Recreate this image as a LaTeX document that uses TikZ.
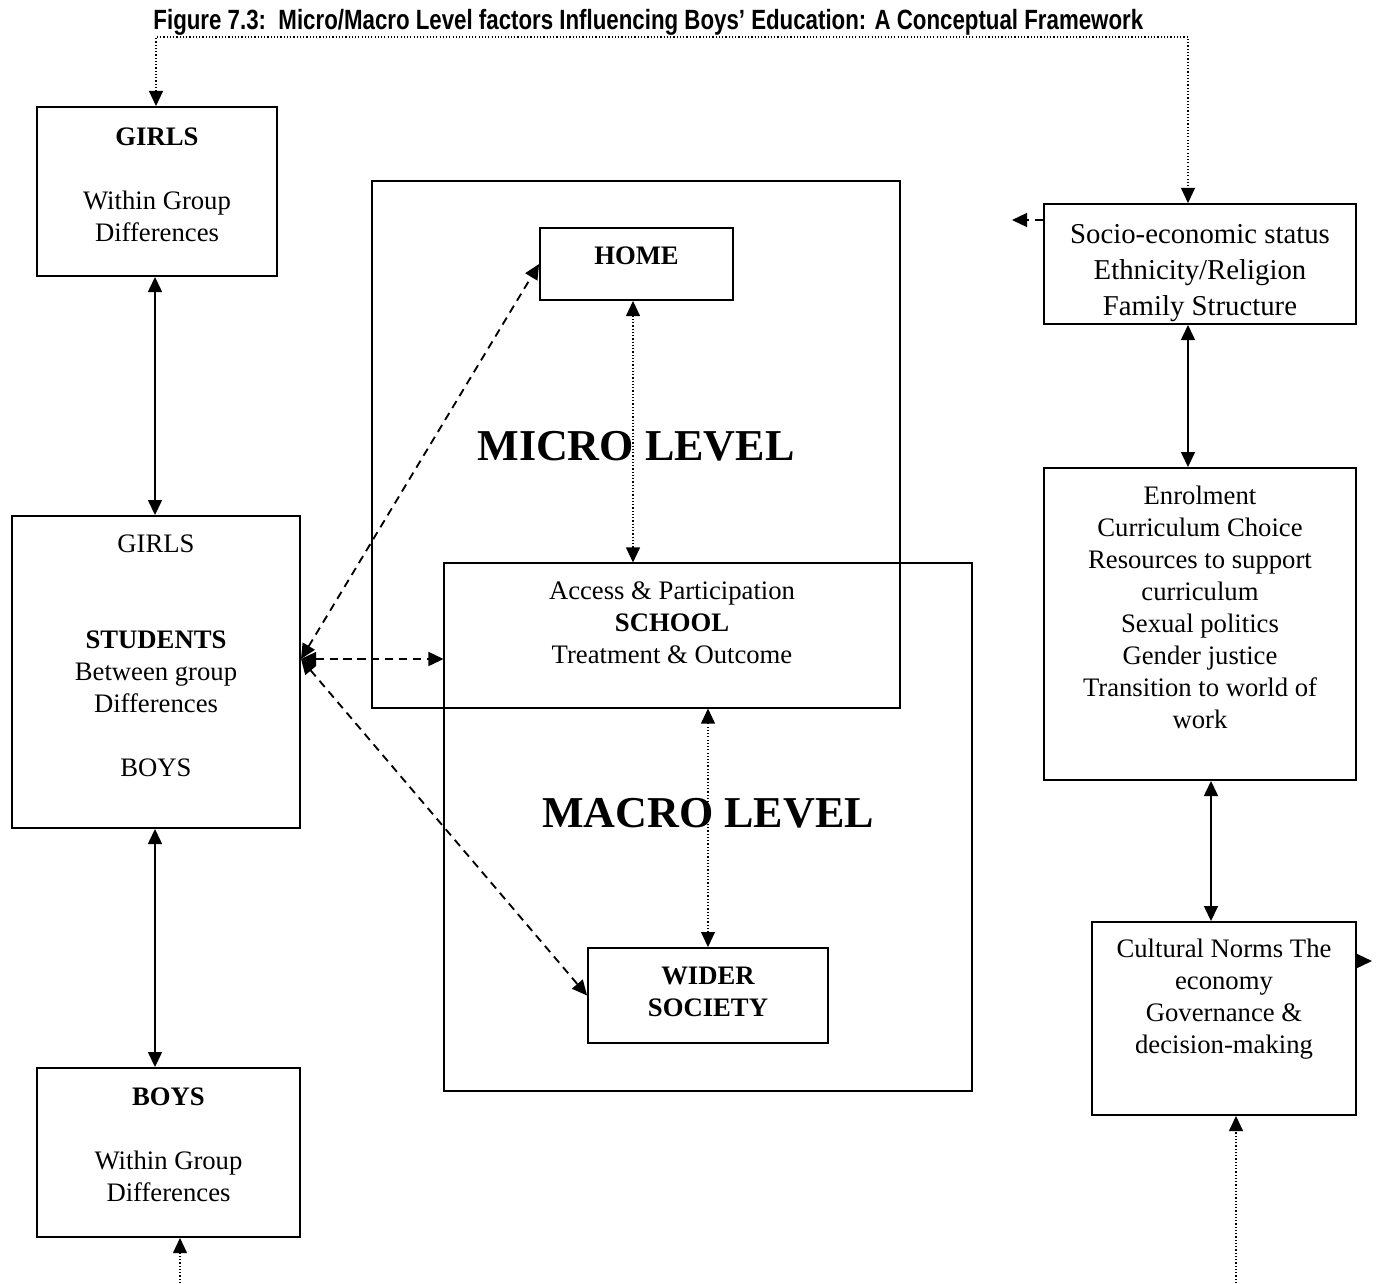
\documentclass[tikz,border=0pt]{standalone}
\usepackage{fontspec}
\setmainfont{Liberation Serif}
\newfontfamily\titlefont[FakeStretch=0.8]{Liberation Sans}
\usetikzlibrary{arrows.meta}
\newdimen\pxu \pxu=0.431pt
\tikzset{
  box/.style={draw, line width=0.8pt, inner sep=0pt},
  boxsize/.style 2 args={minimum width=#1*\pxu, minimum height=#2*\pxu},
  txt/.style={align=center, inner sep=0pt, font=\fontsize{11.5}{13.8}\selectfont},
  bigtxt/.style={align=center, inner sep=0pt, font=\fontsize{12.4}{15.5}\selectfont},
  level/.style={inner sep=0pt, font=\fontsize{19}{22}\selectfont\bfseries},
  link/.style={line width=0.8pt},
  dashlink/.style={line width=0.8pt, dash pattern=on 3.5pt off 2.5pt},
  dotlink/.style={line width=0.5pt, dash pattern=on 0.5pt off 0.9pt}
}
\begin{document}
\begin{tikzpicture}[x=0.431pt, y=-0.431pt, >={Triangle[length=6.5pt,width=6pt]}]
  \useasboundingbox (0,0) rectangle (1381,1283);

  \node[anchor=base west, inner sep=0pt, font=\titlefont\fontsize{12}{14}\selectfont\bfseries] (title) at (153,29)
    {Figure 7.3:\ \ Micro/Macro Level factors Influencing Boys’ Education: A Conceptual Framework};

  % left column
  \node[box, boxsize={240}{169}] (girls) at (157,191.5) {};
  \node[txt] (girlsT) at (157,184.5) {\textbf{GIRLS}\\[13.8pt]Within Group\\Differences};
  \node[box, boxsize={288}{312}] (students) at (156,672) {};
  \node[txt] (studentsT) at (156,656) {GIRLS\\[27.6pt]\textbf{STUDENTS}\\Between group\\Differences\\[13.8pt]BOYS};
  \node[box, boxsize={263}{169}] (boys) at (168.5,1152.5) {};
  \node[txt] (boysT) at (168.5,1144.5) {\textbf{BOYS}\\[13.8pt]Within Group\\Differences};

  % micro / macro levels
  \node[box, boxsize={528}{527}] (micro) at (636,444.5) {};
  \node[box, boxsize={528}{528}] (macro) at (708,827) {};
  \node[inner sep=0pt, boxsize={456}{145}] (school) at (672,635.5) {};
  \node[txt] (schoolT) at (672,623) {Access \& Participation\\\textbf{SCHOOL}\\Treatment \& Outcome};
  \node[box, boxsize={193}{72}] (home) at (636.5,264) {};
  \node[txt, font=\fontsize{11.5}{13.8}\selectfont\bfseries] (homeT) at (636.5,256) {HOME};
  \node[box, boxsize={240}{95}] (wider) at (708,995.5) {};
  \node[txt, font=\fontsize{11.5}{13.8}\selectfont\bfseries] (widerT) at (708,992) {WIDER\\SOCIETY};
  \node[level] (microT) at (636,446) {MICRO LEVEL};
  \node[level] (macroT) at (708,813) {MACRO LEVEL};

  % right column
  \node[box, boxsize={312}{120}] (socio) at (1200,264) {};
  \node[bigtxt] (socioT) at (1200,273.5) {Socio-economic status\\Ethnicity/Religion\\Family Structure};
  \node[box, boxsize={312}{312}] (enrol) at (1200,624) {};
  \node[txt] (enrolT) at (1200,607) {Enrolment\\Curriculum Choice\\Resources to support\\curriculum\\Sexual politics\\Gender justice\\Transition to world of\\work};
  \node[box, boxsize={264}{193}] (cultural) at (1224,1018.5) {};
  \node[txt] (culturalT) at (1224,999.5) {Cultural Norms The\\economy\\Governance \&\\decision-making};

  % helper points
  \coordinate (tl) at (156,37);
  \coordinate (tr) at (1188,37);
  \coordinate (xl) at (155,0);
  \coordinate (xh) at (633,0);
  \coordinate (xa) at (1188,0);
  \coordinate (xb) at (1211,0);
  \coordinate (sp) at (301,659);
  \coordinate (sl) at (1012,220);
  \coordinate (cr) at (1372,961);
  \coordinate (bl) at (180,1283);
  \coordinate (br) at (1236,1283);

  % connectors
  \draw[dotlink, <->] (girls.north -| tl) -- (tl) -- (tr) -- (socio.north -| tr);
  \draw[link, <->] (girls.south -| xl) -- (students.north -| xl);
  \draw[link, <->] (students.south -| xl) -- (boys.north -| xl);
  \draw[dotlink, ->] (bl) -- (boys.south -| bl);
  \draw[dotlink, <->] (home.south -| xh) -- (school.north -| xh);
  \draw[dotlink, <->] (school.south -| wider.north) -- (wider.north);
  \draw[dashlink, <->] (sp) -- (home.west);
  \draw[dashlink, <->] (sp) -- (sp -| school.west);
  \draw[dashlink, <->] (sp) -- (wider.west);
  \draw[dashlink, ->] (sl -| socio.west) -- (sl);
  \draw[link, <->] (socio.south -| xa) -- (enrol.north -| xa);
  \draw[link, <->] (enrol.south -| xb) -- (cultural.north -| xb);
  \draw[link, ->] (cr -| cultural.east) -- (cr);
  \draw[dotlink, ->] (br) -- (cultural.south -| br);
\end{tikzpicture}
\end{document}
